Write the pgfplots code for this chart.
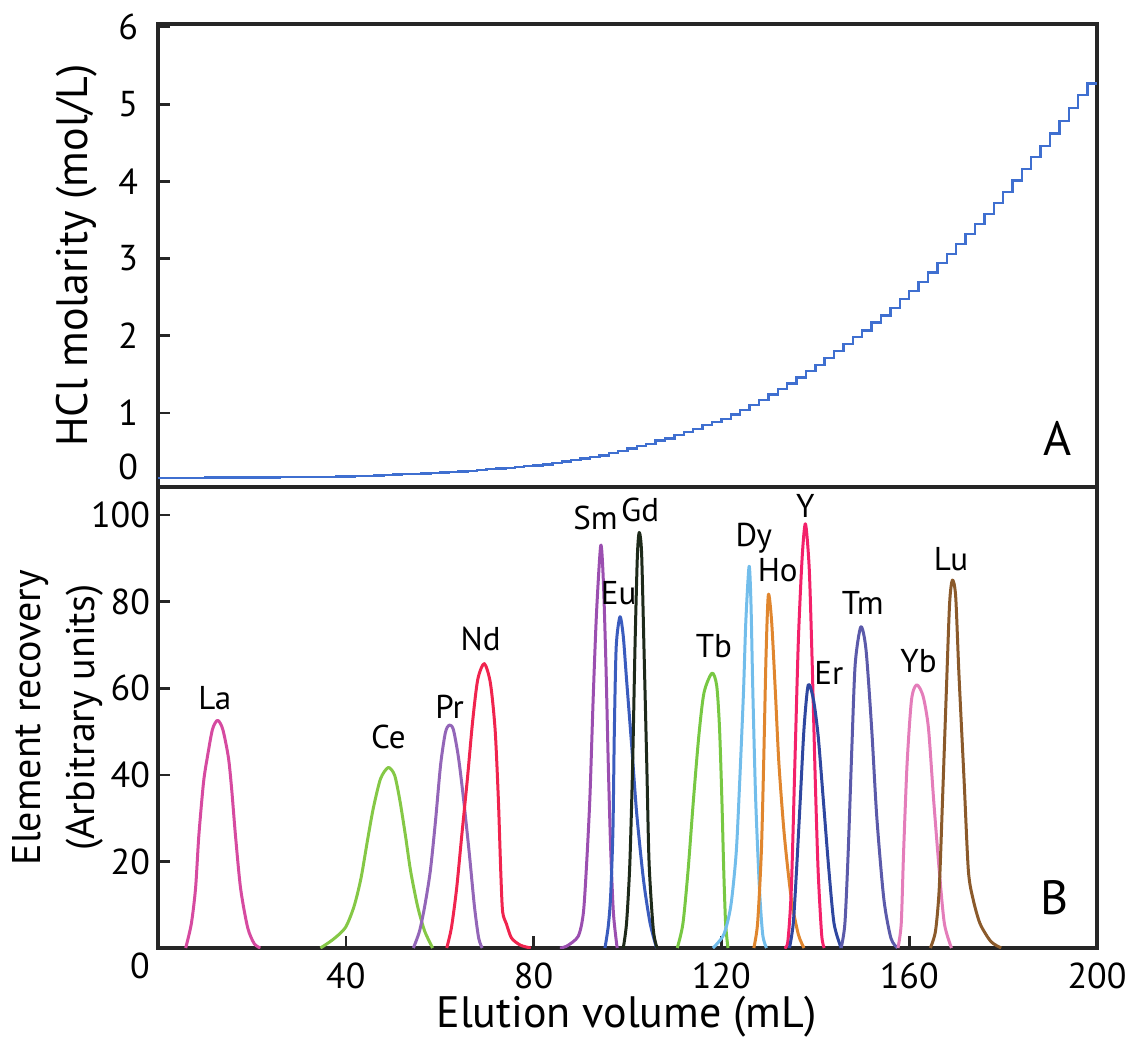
\documentclass[border=0pt]{standalone}
\usepackage{pgfplots}
\pgfplotsset{compat=1.18}
\usepackage{fontspec}
\setmainfont{PT Sans}

\definecolor{hcl}{RGB}{63,111,208}
\definecolor{cLa}{RGB}{214,74,160}
\definecolor{cCe}{RGB}{133,200,70}
\definecolor{cPr}{RGB}{147,102,184}
\definecolor{cNd}{RGB}{240,36,78}
\definecolor{cSm}{RGB}{155,79,176}
\definecolor{cEu}{RGB}{58,92,190}
\definecolor{cGd}{RGB}{30,42,26}
\definecolor{cTb}{RGB}{120,200,67}
\definecolor{cDy}{RGB}{114,189,235}
\definecolor{cHo}{RGB}{224,134,46}
\definecolor{cY}{RGB}{243,33,106}
\definecolor{cEr}{RGB}{47,71,160}
\definecolor{cTm}{RGB}{91,90,170}
\definecolor{cYb}{RGB}{228,125,186}
\definecolor{cLu}{RGB}{139,90,43}

\tikzset{elem/.style={font=\fontsize{16.5}{16.5}\selectfont}}

\begin{document}
\begin{tikzpicture}
\useasboundingbox (-79pt,12pt) rectangle (485pt,-508pt);
\pgfplotsset{
  panel/.style={
    scale only axis, width=469.5pt,
    xmin=0, xmax=200,
    axis line style={line width=1.8pt, black!85},
    tick style={line width=1.3pt, black!85},
    tick align=inside, ytick pos=left, xtick pos=bottom,
    major tick length=6pt,
    tick label style={font=\fontsize{18}{18}\selectfont},
    /pgf/number format/assume math mode=true,
    label style={font=\fontsize{22}{27}\selectfont},
    clip mode=individual,
  },
  peak/.style={line width=1.5pt, smooth, tension=0.45, line join=round},
}

% panel A: HCl gradient
\begin{axis}[panel, name=top, at={(0,0)}, anchor=north west,
  height=231.5pt, ymin=0.04, ymax=6.04,
  ytick={1,...,6}, xtick=\empty,
  extra y ticks={0.3}, extra y tick labels={0},
  extra y tick style={tick style={draw=none}},
  yticklabel style={xshift=-6.5pt},
  ylabel={HCl molarity (mol/L)},
  ylabel style={at={(axis description cs:-0.087,0.5)}, anchor=center},
]
\addplot[const plot, hcl, line width=1.2pt] coordinates {
(0,0.160)(10,0.162)(20,0.164)(26,0.166)(32,0.168)(34,0.170)(36,0.172)(38,0.175)
(40,0.178)(42,0.182)(44,0.186)(46,0.190)(48,0.195)(50,0.200)(52,0.205)(54,0.210)
(56,0.215)(58,0.220)(60,0.230)(62,0.235)(64,0.240)(66,0.250)(68,0.260)(70,0.270)
(72,0.280)(74,0.290)(76,0.300)(78,0.310)(80,0.320)(82,0.330)(84,0.350)(86,0.370)
(88,0.390)(90,0.410)(92,0.430)(94,0.450)(96,0.480)(98,0.510)(100,0.540)(102,0.570)
(104,0.600)(106,0.640)(108,0.670)(110,0.710)(112,0.750)(114,0.790)(116,0.840)(118,0.880)
(120,0.920)(122,0.980)(124,1.040)(126,1.100)(128,1.170)(130,1.240)(132,1.310)(134,1.380)
(136,1.460)(138,1.540)(140,1.620)(142,1.710)(144,1.800)(146,1.890)(148,1.980)(150,2.070)
(152,2.170)(154,2.260)(156,2.360)(158,2.480)(160,2.580)(162,2.700)(164,2.820)(166,2.940)
(168,3.060)(170,3.190)(172,3.320)(174,3.450)(176,3.580)(178,3.720)(180,3.860)(182,4.010)
(184,4.160)(186,4.320)(188,4.460)(190,4.620)(192,4.780)(194,4.950)(196,5.120)(198,5.270)
(200,5.270)
};
\node[font=\fontsize{24}{24}\selectfont] at (rel axis cs:1,0) [xshift=-19.5pt, yshift=24.5pt] {A};
\end{axis}

% panel B: elution peaks
\begin{axis}[panel, name=bot, at={(top.south west)}, anchor=north west,
  height=230.5pt, ymin=0, ymax=106.5,
  ytick={20,40,60,80,100}, xtick={40,80,120,160,200},
  yticklabel style={xshift=-0.5pt},
  xticklabel style={yshift=-4pt},
  xlabel={Elution volume (mL)},
  xlabel style={at={(axis description cs:0.499,-0.1735)}, anchor=base},
  ylabel={Element recovery\\(Arbitrary units)},
  ylabel style={at={(axis description cs:-0.1065,0.5)}, anchor=center, align=center,
    font=\fontsize{20}{27}\selectfont},
]
\addplot[peak, cLa] coordinates {(5.9,0)(7.1,5.6)(8.0,13.8)(8.7,26)(9.7,38.3)(10.5,44)(11.6,50.5)(12.7,52.6)(13.8,50.5)(15.0,44)(15.7,36.6)(16.5,26)(17.6,13.7)(19.1,4.7)(20.5,1)(21.8,0)};
\addplot[peak, cCe] coordinates {(34.6,0)(37.2,1.9)(39.9,4.7)(41.75,9.6)(43.25,16.2)(44.8,26)(45.9,32.5)(47.4,39.1)(49.05,41.7)(50.4,39.9)(51.5,34.2)(52.7,26)(53.8,17.8)(55.3,9.6)(56.8,3.9)(58.5,0)};
\addplot[peak, cPr] coordinates {(54.4,0)(55.7,3.9)(56.8,9.6)(58.0,17.8)(59.1,29.3)(60.2,42.4)(61.2,49.7)(62.0,51.5)(62.9,50.5)(64.0,44)(65.1,34.2)(66.3,21.9)(67.4,9.6)(68.3,2.3)(69.05,0)};
\addplot[peak, cNd] coordinates {(61.5,0)(62.5,4.7)(63.6,13.7)(64.7,26)(65.9,39.1)(67.0,52.2)(68.1,62)(69.5,65.7)(70.8,61.2)(71.8,50.5)(72.5,34.2)(73.0,17.8)(73.4,8.4)(74.2,5.6)(75.3,2.3)(77.2,0.65)(79.4,0)};
\addplot[peak, cSm] coordinates {(85.6,0)(87.0,0.4)(89.5,2.7)(90.6,8.1)(91.3,19.6)(92.0,35)(92.7,58)(93.4,77.4)(94.3,93)(94.85,85)(95.4,65.8)(95.9,42.7)(96.4,23.5)(97.0,8.1)(97.8,0)};
\addplot[peak, cEu] coordinates {(95.2,0)(95.9,5)(96.4,11.9)(96.9,27.3)(97.2,50.4)(97.6,69.7)(98.4,76.5)(99.1,72)(99.8,62)(100.9,46.6)(101.95,31.2)(103.4,15.8)(104.8,5.8)(106.2,0)};
\addplot[peak, cGd] coordinates {(99.1,0)(99.8,5.8)(100.5,19.6)(101.1,42.7)(101.6,69.7)(102.1,90.5)(102.5,96)(103.0,91.3)(103.5,69.7)(104.1,42.7)(104.6,19.6)(105.5,4.2)(106.3,0)};
\addplot[peak, cTb] coordinates {(110.6,0)(111.8,5.6)(112.9,17.9)(114.05,34.3)(115.2,49.1)(116.3,59)(118.0,63.5)(119.0,60.6)(119.6,50.8)(120.1,34.3)(120.5,17.9)(120.9,5.6)(121.4,0)};
\addplot[peak, cDy] coordinates {(118.2,0)(120.5,3.1)(122.0,9.7)(123.15,22)(123.9,38.5)(124.7,59)(125.2,75.4)(125.9,88.2)(126.3,79.5)(126.7,59)(127.3,34.3)(128.1,13.8)(128.8,3.1)(129.6,0)};
\addplot[peak, cHo] coordinates {(126.9,0)(127.7,5.6)(128.5,22)(129.0,42.6)(129.5,67.2)(130.0,81.6)(130.7,75.4)(131.5,59)(132.25,42.6)(133.4,26.1)(134.9,11.3)(136.4,3.1)(137.6,0)};
\addplot[peak, cY] coordinates {(133.4,0)(134.15,1.5)(134.9,13.8)(135.65,42.6)(136.4,71.3)(137.2,90.2)(137.9,98)(138.7,87.8)(139.3,67.2)(140.0,38.5)(140.6,17.9)(141.35,3.1)(141.9,0)};
\addplot[peak, cEr] coordinates {(134.5,0)(135.3,5.6)(136.0,17.9)(136.8,34.3)(137.6,50.8)(138.5,60.8)(139.6,57.4)(140.6,49.1)(141.7,34.3)(142.9,17.9)(144.0,5.6)(145.5,0)};
\addplot[peak, cTm] coordinates {(145.5,0)(146.3,5.6)(147.0,22)(147.8,46.7)(148.5,65.6)(149.7,74.2)(150.8,68.9)(152.0,50.8)(153.1,30.2)(154.6,11.3)(156.1,2.3)(157.5,0)};
\addplot[peak, cYb] coordinates {(157.6,0)(158.3,5.6)(158.8,22)(159.55,42.6)(160.5,57.4)(161.6,60.8)(162.95,58.2)(164.1,50.8)(165.2,34.3)(166.4,17.9)(167.5,5.6)(169.0,0)};
\addplot[peak, cLu] coordinates {(164.5,0)(165.6,3.9)(166.4,13.8)(167.1,34.3)(167.9,59)(168.6,79.5)(169.2,85)(169.9,81.2)(170.6,63.1)(171.7,38.5)(172.6,17.9)(173.6,11.3)(175.1,5.6)(177.4,1.5)(179.6,0)};

\node[elem] at (axis cs:12.1,57.7) {La};
\node[elem] at (axis cs:49.05,48.7) {Ce};
\node[elem] at (axis cs:62.1,55.7) {Pr};
\node[elem] at (axis cs:68.7,71.4) {Nd};
\node[elem] at (axis cs:93.2,99.3) {Sm};
\node[elem] at (axis cs:102.7,101.1) {Gd};
\node[elem] at (axis cs:98.1,82.0) {Eu};
\node[elem] at (axis cs:118.4,69.7) {Tb};
\node[elem] at (axis cs:126.9,94.7) {Dy};
\node[elem] at (axis cs:132.0,87.3) {Ho};
\node[elem] at (axis cs:137.9,102.1) {Y};
\node[elem] at (axis cs:142.9,63.5) {Er};
\node[elem] at (axis cs:150.1,79.7) {Tm};
\node[elem] at (axis cs:162.0,66.2) {Yb};
\node[elem] at (axis cs:168.9,89.8) {Lu};
\node[font=\fontsize{18}{18}\selectfont] at (rel axis cs:0,0) [xshift=-9pt, yshift=-9pt] {0};
\node[font=\fontsize{24}{24}\selectfont] at (rel axis cs:1,0) [xshift=-21pt, yshift=25pt] {B};
\end{axis}
\end{tikzpicture}
\end{document}
